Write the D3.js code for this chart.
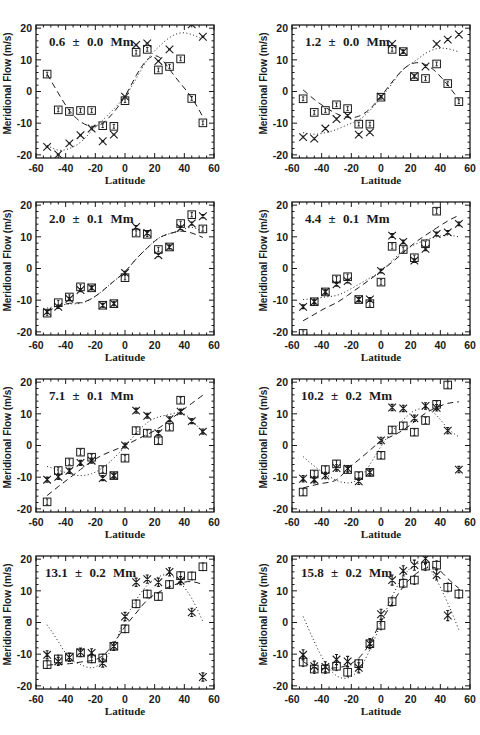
<!DOCTYPE html>
<html>
<head>
<meta charset="utf-8">
<script src="https://cdn.jsdelivr.net/npm/d3@7"></script>
<style>
  body { margin: 0; background: #fff; }
  svg { display: block; }
</style>
</head>
<body>
<svg id="main-svg" width="480" height="735"></svg>
<script>
// latitude bins shared by every panel
const lats = [-52.5, -45, -37.5, -30, -22.5, -15, -7.5, 0, 7.5, 15, 22.5, 30, 37.5, 45, 52.5];
const depthLabels = ["0.6 \u00b1 0.0 Mm", "1.2 \u00b1 0.0 Mm", "2.0 \u00b1 0.1 Mm", "4.4 \u00b1 0.1 Mm",
                     "7.1 \u00b1 0.1 Mm", "10.2 \u00b1 0.2 Mm", "13.1 \u00b1 0.2 Mm", "15.8 \u00b1 0.2 Mm"];
const xTicks = [-60, -40, -20, 0, 20, 40, 60];
const yTicks = [-20, -10, 0, 10, 20];

// square symbols, one row per panel
const squareVals = [
  [5.5, -5.8, -6.3, -6.0, -6.0, -10.8, -11.0, -2.9, 12.4, 13.3, 6.8, 7.9, 10.3, -2.2, -9.9],
  [-2.3, -6.6, -6.0, -4.2, -5.4, -10.3, -10.3, -1.8, 13.3, 12.6, 4.7, 4.1, 8.7, 2.5, -3.2],
  [-14.1, -10.8, -9.0, -5.8, -6.1, -11.6, -11.1, -2.9, 11.2, 10.8, 6.0, 6.8, 14.2, 17.0, 12.5],
  [-20.5, -10.5, -7.4, -3.3, -2.6, -9.8, -11.1, -4.3, 7.0, 6.0, 3.4, 7.8, 18.1, null, null],
  [-17.8, -7.9, -5.2, -2.1, -3.7, -7.6, -9.5, -4.0, 4.7, 3.9, 1.5, 5.8, 14.3, null, null],
  [-14.7, -9.0, -7.6, -5.8, -7.6, -9.5, -8.5, -3.1, 4.9, 6.2, 4.2, 7.9, 13.0, 19.1, null],
  [-13.3, -11.5, -10.9, -9.6, -11.5, -11.2, -7.5, -2.0, 5.9, 9.0, 8.2, 12.0, 14.8, 14.7, 17.6],
  [-12.5, -14.7, -14.7, -13.8, -15.7, -13.0, -6.7, -0.9, 6.6, 12.4, 13.4, 17.8, 18.1, 11.1, 9.0]
];
// cross symbols
const crossVals = [
  [-17.5, -19.9, -16.4, -13.8, -11.7, -15.7, -13.6, -1.6, 14.7, 15.2, 9.6, 13.3, 22.5, 21.2, 17.3],
  [-14.4, -14.9, -11.7, -8.7, -7.6, -13.6, -12.9, -1.6, 15.0, 12.6, 4.9, 7.9, 15.0, 16.4, 18.0],
  [-13.7, -12.1, -9.6, -6.8, -6.1, -11.6, -11.1, -1.4, 13.1, 11.2, 4.2, 6.8, 12.8, 14.2, 16.5],
  [-12.1, -10.5, -7.4, -5.0, -4.0, -9.8, -9.8, -0.8, 10.4, 8.4, 2.5, 6.2, 10.9, 11.4, 14.1],
  [-10.8, -9.9, -8.0, -5.5, -4.8, -10.3, -9.5, 0.0, 11.0, 9.4, 3.9, 8.3, 10.7, 7.7, 4.4],
  [-10.5, -10.8, -9.5, -7.1, -7.3, -11.3, -8.5, 1.6, 12.0, 11.7, 8.6, 12.5, 11.9, 4.7, -7.6],
  [-10.2, -12.3, -11.0, -9.4, -9.6, -12.8, -7.5, 1.9, 12.7, 13.7, 12.7, 16.0, 13.2, 3.2, -17.2],
  [-10.2, -13.8, -14.0, -11.7, -12.3, -14.3, -6.7, 2.6, 13.4, 16.3, 18.1, 20.2, 15.0, 2.2, null]
];
// error half-widths per panel
const errSquare = [0.6, 0.6, 0.7, 0.8, 0.9, 1.0, 1.2, 1.4];
const errCross = [0.2, 0.3, 0.5, 0.6, 0.8, 1.0, 1.3, 1.6];

// fitted curves (dashed: squares, dotted: crosses)
const dashFit = [
  [5.5, -0.5, -6.0, -9.5, -11.0, -10.0, -6.5, -1.5, 5.0, 10.0, 11.0, 7.0, 2.5, -2.0, -8.0],
  [0.5, -2.5, -5.0, -7.0, -8.2, -7.8, -5.5, -1.5, 3.0, 7.0, 9.0, 8.5, 6.0, 2.0, -2.5],
  [-13.5, -12.0, -11.0, -10.8, -9.5, -7.0, -4.0, -1.0, 3.0, 6.5, 9.5, 11.0, 11.8, 11.2, 9.8],
  [-16.5, -14.5, -12.5, -10.8, -8.5, -6.0, -3.5, -0.8, 2.0, 5.0, 8.0, 10.5, 12.8, 15.0, 16.8],
  [-15.8, -13.0, -10.3, -7.6, -5.0, -3.0, -1.5, 0.0, 1.8, 3.5, 5.4, 8.0, 10.7, 13.3, 15.9],
  [-13.4, -12.5, -11.8, -10.8, -7.5, -4.5, -1.5, 1.3, 3.0, 4.9, 7.5, 10.2, 12.0, 13.3, 13.8],
  [-13.5, -13.2, -13.0, -12.5, -12.0, -10.5, -6.5, -1.3, 3.0, 7.1, 9.5, 11.3, 12.5, 12.9, 12.0],
  [-12.3, -14.3, -14.5, -14.3, -13.5, -11.2, -6.5, 0.3, 6.0, 11.3, 15.0, 17.1, 17.1, 13.9, 10.8]
];
const dotFit = [
  [-17.0, -18.5, -18.0, -16.0, -12.5, -9.0, -5.5, -1.5, 4.0, 10.0, 14.0, 17.0, 18.5, 18.0, 16.5],
  [-13.0, -13.5, -13.0, -12.0, -10.5, -9.0, -6.0, -2.0, 2.5, 7.0, 9.5, 12.0, 13.5, 13.5, 12.5],
  [-12.5, -11.8, -11.2, -11.0, -9.5, -7.0, -4.0, -1.0, 3.0, 6.5, 9.5, 11.0, 12.0, 13.0, 11.5],
  [-9.8, -9.5, -9.0, -8.5, -7.0, -5.0, -3.0, -0.8, 2.5, 5.5, 7.5, 9.0, 10.0, 10.5, 10.0],
  [-6.6, -7.8, -8.9, -9.5, -8.9, -7.0, -4.0, -0.3, 3.8, 7.2, 9.0, 9.8, 10.3, 8.1, 3.9],
  [-3.5, -6.5, -9.0, -11.0, -11.8, -10.5, -6.0, -0.3, 4.5, 8.1, 11.0, 11.5, 9.5, 5.4, 2.8],
  [-0.7, -6.0, -11.2, -13.3, -14.3, -12.3, -7.0, 0.8, 7.1, 11.8, 14.4, 15.0, 12.4, 7.6, 0.3],
  [1.9, -6.0, -12.8, -16.8, -17.5, -14.9, -8.6, -0.2, 8.2, 14.5, 18.1, 18.1, 13.4, 6.1, -2.3]
];

const svg = d3.select("#main-svg");
const colLeft = [36, 292];
const rowTop = [25, 202, 379, 556];
const plotW = 178, plotH = 133;
const ink = "#1a1a1a";
const axisFont = "Liberation Sans, Arial, sans-serif";

const xScale = d3.scaleLinear().domain([-60, 60]).range([0, plotW]);
const yScale = d3.scaleLinear().domain([-21, 21]).range([plotH, 0]);

depthLabels.forEach((label, p) => {
    const g = svg.append("g")
        .attr("transform", `translate(${colLeft[p % 2]},${rowTop[Math.floor(p / 2)]})`);

    const clipId = "clip" + p;
    g.append("clipPath").attr("id", clipId)
        .append("rect").attr("width", plotW).attr("height", plotH);

    // ticks on all four sides, pointing inward
    const minorX = d3.range(-60, 61, 5);
    const minorY = d3.range(-20, 21, 2);
    const tickG = g.append("g").attr("stroke", ink).attr("stroke-width", 1);
    minorX.forEach(v => {
        const len = v % 20 === 0 ? 5 : 2.5;
        tickG.append("line").attr("x1", xScale(v)).attr("x2", xScale(v)).attr("y1", plotH).attr("y2", plotH - len);
        tickG.append("line").attr("x1", xScale(v)).attr("x2", xScale(v)).attr("y1", 0).attr("y2", len);
    });
    minorY.forEach(v => {
        const len = v % 10 === 0 ? 5 : 2.5;
        tickG.append("line").attr("y1", yScale(v)).attr("y2", yScale(v)).attr("x1", 0).attr("x2", len);
        tickG.append("line").attr("y1", yScale(v)).attr("y2", yScale(v)).attr("x1", plotW).attr("x2", plotW - len);
    });

    // frame
    g.append("rect").attr("width", plotW).attr("height", plotH)
        .attr("fill", "none").attr("stroke", ink).attr("stroke-width", 1.3);

    // tick labels
    g.selectAll(".xl").data(xTicks).enter().append("text")
        .attr("x", d => xScale(d)).attr("y", plotH + 14)
        .attr("text-anchor", "middle")
        .attr("font-family", axisFont).attr("font-weight", "bold").attr("font-size", "10.5px")
        .attr("fill", ink)
        .text(d => d);
    g.selectAll(".yl").data(yTicks).enter().append("text")
        .attr("x", -4).attr("y", d => yScale(d)).attr("dy", "0.35em")
        .attr("text-anchor", "end")
        .attr("font-family", axisFont).attr("font-weight", "bold").attr("font-size", "10.5px")
        .attr("fill", ink)
        .text(d => d);

    // axis titles
    g.append("text")
        .attr("x", plotW / 2).attr("y", plotH + 26)
        .attr("text-anchor", "middle")
        .attr("font-family", "Liberation Serif, Times New Roman, serif").attr("font-weight", "bold").attr("font-size", "11px")
        .attr("fill", ink)
        .text("Latitude");
    g.append("text")
        .attr("transform", `translate(-25,${plotH / 2 - 8}) rotate(-90)`)
        .attr("text-anchor", "middle")
        .attr("font-family", axisFont).attr("font-weight", "bold").attr("font-size", "10px")
        .attr("fill", ink)
        .text("Meridional Flow (m/s)");

    // depth annotation
    g.append("text")
        .attr("x", p >= 5 ? 9 : 13).attr("y", 21)
        .attr("font-family", "Liberation Serif, Times New Roman, serif").attr("font-weight", "bold").attr("font-size", "13px")
        .attr("word-spacing", "4px")
        .attr("fill", ink)
        .text(label);

    const inner = g.append("g").attr("clip-path", `url(#${clipId})`);

    // fitted curves
    const line = d3.line()
        .x((d, i) => xScale(lats[i]))
        .y(d => yScale(d))
        .curve(d3.curveNatural);
    inner.append("path").datum(dashFit[p])
        .attr("fill", "none").attr("stroke", ink).attr("stroke-width", 1)
        .attr("stroke-dasharray", "6,4").attr("d", line);
    inner.append("path").datum(dotFit[p])
        .attr("fill", "none").attr("stroke", ink).attr("stroke-width", 1)
        .attr("stroke-dasharray", "1,2.5").attr("d", line);

    // squares with error bars
    const sq = lats.map((lat, i) => ({ lat, v: squareVals[p][i] })).filter(d => d.v !== null);
    const sqG = inner.selectAll(".sq").data(sq).enter().append("g")
        .attr("transform", d => `translate(${xScale(d.lat)},${yScale(d.v)})`);
    sqG.append("rect").attr("x", -3.8).attr("y", -3.8).attr("width", 7.6).attr("height", 7.6)
        .attr("fill", "none").attr("stroke", ink).attr("stroke-width", 1);
    const es = yScale(0) - yScale(errSquare[p]);
    sqG.append("path")
        .attr("d", `M0,${-es}V${es}M-1.2,${-es}H1.2M-1.2,${es}H1.2`)
        .attr("stroke", ink).attr("stroke-width", 0.9).attr("fill", "none");

    // crosses with error bars
    const cr = lats.map((lat, i) => ({ lat, v: crossVals[p][i] })).filter(d => d.v !== null);
    const ec = yScale(0) - yScale(errCross[p]);
    inner.selectAll(".cr").data(cr).enter().append("path")
        .attr("transform", d => `translate(${xScale(d.lat)},${yScale(d.v)})`)
        .attr("d", `M-3.8,-3.8L3.8,3.8M-3.8,3.8L3.8,-3.8M0,${-ec}V${ec}M-1.5,${-ec}H1.5M-1.5,${ec}H1.5`)
        .attr("stroke", ink).attr("stroke-width", 1.1).attr("fill", "none");
});
</script>
</body>
</html>
